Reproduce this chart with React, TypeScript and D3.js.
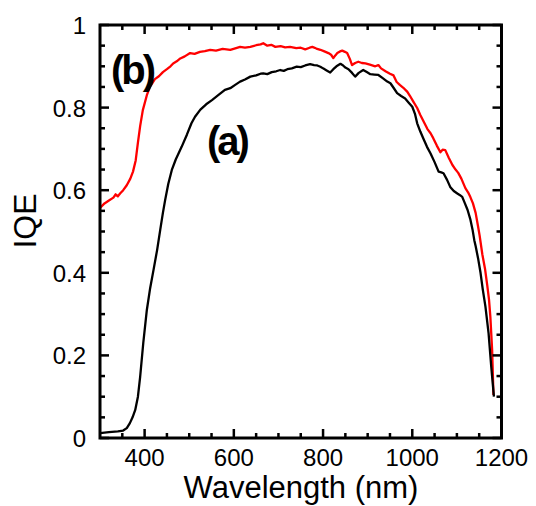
import React from "react";
import * as d3 from "d3";

const wavelengthsB = [300,310,320,330,335,340,345,352,360,368,374,380,385,390,396,405,412,423,432,441,450,458,464,472,480,490,502,512,524,535,547,560,575,592,605,614,625,637,650,660,666,675,684,693,705,715,726,740,750,760,770,776,785,794,803,812,818,823,828,832,838,843,849,854,860,865,872,879,887,895,905,917,924,930,940,950,958,965,972,980,989,995,1002,1011,1018,1026,1034,1041,1047,1055,1063,1068,1074,1082,1090,1097,1103,1110,1119,1125,1130,1136,1142,1147,1151,1157,1163,1168,1172,1175,1179,1182];
const iqeB = [0.557,0.568,0.575,0.582,0.590,0.585,0.592,0.600,0.612,0.628,0.645,0.672,0.715,0.755,0.794,0.830,0.850,0.869,0.876,0.886,0.893,0.900,0.907,0.912,0.919,0.924,0.932,0.930,0.935,0.937,0.940,0.938,0.942,0.940,0.944,0.947,0.945,0.947,0.951,0.953,0.956,0.950,0.952,0.947,0.949,0.946,0.947,0.944,0.945,0.941,0.945,0.947,0.943,0.940,0.936,0.932,0.928,0.920,0.927,0.932,0.936,0.938,0.935,0.932,0.918,0.903,0.908,0.911,0.908,0.907,0.904,0.900,0.903,0.895,0.888,0.882,0.878,0.862,0.855,0.848,0.838,0.828,0.815,0.799,0.782,0.765,0.748,0.738,0.726,0.708,0.692,0.698,0.697,0.678,0.661,0.650,0.642,0.628,0.605,0.595,0.584,0.568,0.545,0.515,0.490,0.445,0.410,0.370,0.335,0.294,0.213,0.104];

const wavelengthsA = [300,320,340,352,360,367,373,379,385,390,397,405,412,420,428,435,441,446,453,461,470,483,495,505,513,525,538,551,565,580,592,603,614,625,637,650,660,666,675,685,695,704,712,720,730,741,750,760,771,780,787,794,800,808,816,823,830,839,845,850,857,865,872,880,890,898,906,915,924,933,944,951,958,966,975,984,992,1000,1006,1011,1018,1026,1033,1041,1050,1059,1065,1070,1078,1085,1093,1101,1107,1112,1118,1124,1130,1135,1139,1142,1148,1153,1158,1164,1171,1177,1183];
const iqeA = [0.012,0.014,0.016,0.018,0.024,0.036,0.050,0.068,0.100,0.148,0.230,0.310,0.360,0.407,0.455,0.504,0.545,0.576,0.615,0.649,0.675,0.705,0.735,0.762,0.778,0.795,0.808,0.818,0.830,0.843,0.847,0.855,0.863,0.868,0.875,0.878,0.882,0.883,0.881,0.886,0.888,0.891,0.889,0.893,0.895,0.899,0.898,0.902,0.905,0.903,0.902,0.899,0.895,0.890,0.885,0.893,0.900,0.906,0.902,0.897,0.893,0.884,0.875,0.884,0.891,0.886,0.881,0.880,0.879,0.872,0.863,0.859,0.848,0.835,0.828,0.822,0.812,0.802,0.785,0.762,0.742,0.722,0.705,0.689,0.668,0.645,0.643,0.641,0.625,0.608,0.598,0.592,0.588,0.584,0.568,0.552,0.530,0.505,0.479,0.465,0.432,0.400,0.360,0.318,0.254,0.173,0.100];

const xMajorTicks = [400, 600, 800, 1000, 1200];
const yMajorTicks = [0, 0.2, 0.4, 0.6, 0.8, 1];
const yTickLabels = ["0", "0.2", "0.4", "0.6", "0.8", "1"];
const xTickLabels = ["400", "600", "800", "1000", "1200"];

const W = 536, H = 506;
const L = 100, R = 501.5, T = 25, B = 438;
const FONT = "'Liberation Sans', Arial, sans-serif";

export default function App() {
  const x = d3.scaleLinear().domain([300, 1200]).range([L, R]);
  const y = d3.scaleLinear().domain([0, 1]).range([B, T]);
  const xMinor = d3.range(300, 1201, 50).filter((v) => !xMajorTicks.includes(v) && v !== 300);
  const yMinor = d3.range(0, 21).map((i) => i * 0.05).filter((v, i) => i % 4 !== 0 && i !== 0 && i !== 20);

  const line = d3.line<[number, number]>().x((d) => x(d[0])).y((d) => y(d[1]));
  const dataA: [number, number][] = wavelengthsA.map((w, i) => [w, iqeA[i]]);
  const dataB: [number, number][] = wavelengthsB.map((w, i) => [w, iqeB[i]]);

  const majLen = 9, minLen = 5;
  const tw = 2.5;

  return (
    <svg width={W} height={H} style={{ position: "fixed", left: 0, top: 0, background: "#fff" }}>
      <rect x={0} y={0} width={W} height={H} fill="#fff" />
      <path d={line(dataB) || ""} fill="none" stroke="#ff0000" strokeWidth={2.3} strokeLinejoin="round" />
      <path d={line(dataA) || ""} fill="none" stroke="#000" strokeWidth={2.3} strokeLinejoin="round" />
      {xMajorTicks.map((v) => (
        <g key={"xm" + v}>
          <line x1={x(v)} x2={x(v)} y1={B} y2={B - majLen} stroke="#000" strokeWidth={tw} />
          <line x1={x(v)} x2={x(v)} y1={T} y2={T + majLen} stroke="#000" strokeWidth={tw} />
        </g>
      ))}
      {xMinor.map((v) => (
        <g key={"xn" + v}>
          <line x1={x(v)} x2={x(v)} y1={B} y2={B - minLen} stroke="#000" strokeWidth={tw} />
          <line x1={x(v)} x2={x(v)} y1={T} y2={T + minLen} stroke="#000" strokeWidth={tw} />
        </g>
      ))}
      {yMajorTicks.map((v) => (
        <g key={"ym" + v}>
          <line x1={L} x2={L + majLen} y1={y(v)} y2={y(v)} stroke="#000" strokeWidth={tw} />
          <line x1={R} x2={R - majLen} y1={y(v)} y2={y(v)} stroke="#000" strokeWidth={tw} />
        </g>
      ))}
      {yMinor.map((v) => (
        <g key={"yn" + v}>
          <line x1={L} x2={L + minLen} y1={y(v)} y2={y(v)} stroke="#000" strokeWidth={tw} />
          <line x1={R} x2={R - minLen} y1={y(v)} y2={y(v)} stroke="#000" strokeWidth={tw} />
        </g>
      ))}
      <rect x={L} y={T} width={R - L} height={B - T} fill="none" stroke="#000" strokeWidth={3} />
      {yMajorTicks.map((v, i) => (
        <text key={"yl" + v} x={86} y={y(v) + 9} textAnchor="end" fontFamily={FONT} fontSize={24} fill="#000">
          {yTickLabels[i]}
        </text>
      ))}
      {xMajorTicks.map((v, i) => (
        <text key={"xl" + v} x={x(v)} y={466} textAnchor="middle" fontFamily={FONT} fontSize={24} fill="#000">
          {xTickLabels[i]}
        </text>
      ))}
      <text x={301} y={498} textAnchor="middle" fontFamily={FONT} fontSize={31} fill="#000">
        Wavelength (nm)
      </text>
      <text transform="translate(36,221) rotate(-90)" textAnchor="middle" fontFamily={FONT} fontSize={32} fill="#000">
        IQE
      </text>
      <text x={111} y={84} fontFamily={FONT} fontSize={40} fontWeight="bold" letterSpacing={-3} fill="#000">
        (b)
      </text>
      <text x={207} y={155} fontFamily={FONT} fontSize={40} fontWeight="bold" letterSpacing={-3} fill="#000">
        (a)
      </text>
    </svg>
  );
}
